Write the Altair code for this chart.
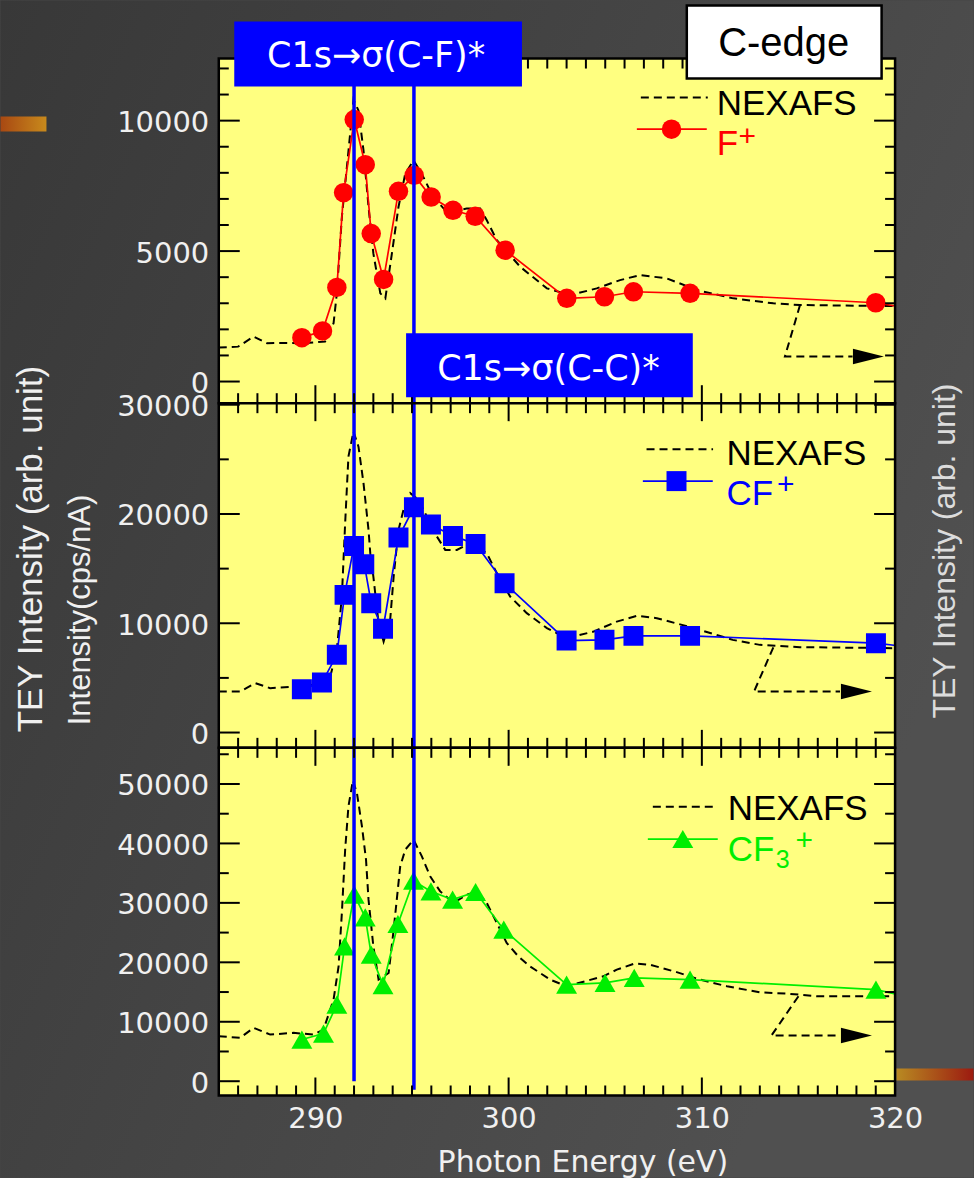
import altair as alt
import pandas as pd

# ---------------- data ----------------
x_domain = [285, 320]
x_major_ticks = [290, 300, 310]
x_minor_ticks = [e for e in range(286, 320) if e % 10 != 0]
x_tick_labels = [290, 300, 310, 320]

resonance_ev = [292.0, 295.1]
resonance_bottom_end = [0, -1450]

# panel 1 : F+
f_domain = [-830, 12380]
f_major = [0, 5000, 10000]
f_minor = [1000, 2000, 3000, 4000, 6000, 7000, 8000, 9000, 11000, 12000]
nex1_ev = [285.0, 286.0, 286.8, 287.5, 288.5, 289.3, 290.5, 290.94, 291.11, 291.37, 291.63, 291.97,
           292.23, 292.49, 292.75, 293.0, 293.36, 293.62, 293.96, 294.3, 294.65, 295.08, 295.5, 296.1,
           296.8, 297.83, 298.53, 298.87, 299.39, 300.6, 301.98, 303.2, 304.56, 305.77, 306.8, 308.19,
           309.74, 311.63, 313.7, 315.08, 320.0]
nex1_val = [1300, 1338, 1720, 1468, 1480, 1468, 1529, 2233, 3380, 6308, 8220, 10800,
            10387, 8858, 6690, 4909, 3380, 3189, 4909, 6690, 7967, 8476, 7967, 7073,
            6500, 6628, 6628, 6181, 5417, 4397, 3571, 3315, 3571, 3888, 4079, 3953,
            3506, 3188, 2997, 2932, 2890]
f_ev = [289.3, 290.37, 291.11, 291.46, 292.01, 292.58, 292.89, 293.53, 294.30, 295.11, 295.99,
        297.12, 298.27, 299.82, 303.01, 304.96, 306.46, 309.39, 319.0, 325.0]
f_val = [1682, 1938, 3609, 7241, 10043, 8311, 5673, 3914, 7290, 7902, 7073,
         6564, 6335, 5035, 3188, 3250, 3441, 3380, 3020, 2260]
arrow1_ev = [315.08, 314.3, 317.8]
arrow1_val = [2932, 963, 963]
head1 = (318.62, 963)

# panel 2 : CF+
cf_domain = [-1400, 30140]
cf_major = [0, 10000, 20000, 30000]
cf_minor = [5000, 15000, 25000]
nex2_ev = [285.0, 286.1, 286.9, 287.66, 288.87, 289.9, 290.77, 291.11, 291.37, 291.54, 291.71, 291.97,
           292.23, 292.49, 292.75, 292.84, 293.0, 293.27, 293.53, 293.87, 294.05, 294.3, 294.56, 294.91,
           295.34, 295.77, 296.29, 296.72, 297.32, 298.0, 298.87, 299.39, 300.08, 300.94, 301.98, 303.0,
           304.4, 305.6, 306.64, 307.67, 308.87, 309.9, 311.6, 313.0, 315.07, 320.0]
nex2_val = [3751, 3751, 4520, 4062, 4208, 4364, 5123, 7566, 12443, 19158, 25252, 27540,
            26166, 22818, 18546, 16413, 14272, 10009, 8325, 10311, 14272, 18546, 20375, 21903,
            21290, 19762, 17932, 16716, 16716, 17328, 16413, 14584, 12443, 10924, 9552, 8637,
            9241, 10155, 10677, 10466, 9900, 9396, 8481, 8024, 7813, 7722]
cf_ev = [289.3, 290.34, 291.11, 291.51, 292.0, 292.53, 292.89, 293.5, 294.3, 295.1, 295.98,
         297.12, 298.29, 299.79, 303.0, 304.96, 306.46, 309.39, 319.01, 325.0]
cf_val = [3970, 4575, 7109, 12598, 17081, 15407, 11839, 9488, 17841, 20621, 19030,
          17996, 17264, 13669, 8418, 8481, 8847, 8847, 8179, 6945]
arrow2_ev = [313.7, 312.7, 317.15]
arrow2_val = [7800, 3751, 3751]
head2 = (318.0, 3751)

# panel 3 : CF3+
cf3_domain = [-2400, 56080]
cf3_major = [0, 10000, 20000, 30000, 40000, 50000]
cf3_minor = [5000, 15000, 25000, 35000, 45000, 55000]
nex3_ev = [285.0, 286.1, 286.8, 287.66, 288.87, 289.9, 290.42, 290.94, 291.2, 291.37, 291.54, 291.71,
           291.94, 292.15, 292.41, 292.62, 292.75, 293.0, 293.27, 293.79, 294.05, 294.39, 294.65, 295.08,
           295.51, 295.94, 296.46, 297.15, 297.84, 298.36, 298.87, 299.39, 299.9, 300.5, 301.1, 302.15,
           303.0, 304.9, 305.6, 306.5, 307.3, 308.7, 309.9, 311.3, 313.0, 314.4, 315.95, 320.0]
nex3_val = [7563, 7294, 8975, 7849, 8134, 7849, 8689, 13731, 19328, 28303, 38943, 46219,
            50600, 48471, 42858, 37261, 30539, 22690, 17093, 18219, 25496, 36135, 38943, 40623,
            37816, 34454, 31933, 29983, 31379, 31933, 29983, 26622, 23261, 21009, 19328, 17093,
            15966, 17647, 18773, 19782, 19614, 18350, 17093, 15966, 14958, 14740, 14286, 14286]
cf3_ev = [289.3, 290.42, 291.11, 291.51, 292.01, 292.58, 292.89, 293.5, 294.27, 295.08, 295.98,
          297.1, 298.29, 299.75, 303.0, 304.99, 306.5, 309.39, 319.01, 325.0]
cf3_val = [7008, 8017, 12891, 22690, 31378, 27564, 21295, 16135, 26454, 33732, 31933,
           30538, 31832, 25496, 16252, 16538, 17378, 17093, 15412, 11074]
arrow3_ev = [315.0, 313.6, 317.15]
arrow3_val = [14300, 7680, 7680]
head3 = (318.0, 7680)

# text
label_cf = "C1s\u2192\u03c3(C-F)*"
label_cc = "C1s\u2192\u03c3(C-C)*"
label_edge = "C-edge"
label_nexafs = "NEXAFS"
title_tey = "TEY Intensity (arb. unit)"
title_ion = "Intensity(cps/nA)"
title_x = "Photon Energy (eV)"

# ---------------- styling ----------------
W = 677
YELLOW = "#FFFF80"
LABEL = "#f0f0f0"
TICKFONT = "DejaVu Sans"
TEXTFONT = "Liberation Sans"
BLUE = "#0000FF"
RED = "#FF0000"
GREEN = "#00EE00"
ARROW = "M-1,-0.5L1,0L-1,0.5Z"

one = pd.DataFrame({"k": [0]})
xs = alt.Scale(domain=x_domain, nice=False, zero=False)


def yaxis(values):
    return alt.Axis(values=values, format="d", ticks=False, tickSize=0, domain=False, grid=False,
                    labelFont=TICKFONT, labelFontSize=29, labelColor=LABEL, labelPadding=10,
                    labelOffset=2, labelOverlap=False, title=None, zindex=2)


x_axis_bottom = alt.Axis(values=x_tick_labels, format="d", ticks=False, tickSize=0, domain=False, grid=False,
                         labelFont=TICKFONT, labelFontSize=29, labelColor=LABEL, labelPadding=9,
                         labelFlush=False, labelOverlap=False, zindex=2,
                         title=title_x, titleFont=TICKFONT, titleFontSize=30, titleFontWeight="normal",
                         titleColor=LABEL, titleX=364, titleY=76, titleBaseline="alphabetic",
                         titleAlign="center")


def vrect(x, x2, y, y2, **kw):
    return alt.Chart(one).mark_rect(**kw).encode(
        x=alt.value(x), x2=alt.value(x2), y=alt.value(y), y2=alt.value(y2))


def vtext(txt, x, y, size, color, font=TEXTFONT, align="left", baseline="alphabetic", angle=0):
    kw = dict(text=txt, font=font, fontSize=size, color=color, align=align, baseline=baseline)
    if angle:
        kw["angle"] = angle
    return alt.Chart(one).mark_text(**kw).encode(x=alt.value(x), y=alt.value(y))


def vrule(x, x2, y, **kw):
    return alt.Chart(one).mark_rule(**kw).encode(x=alt.value(x), x2=alt.value(x2), y=alt.value(y))


def vpoint(x, y, **kw):
    return alt.Chart(one).mark_point(**kw).encode(x=alt.value(x), y=alt.value(y))


def panel(H, y_domain, y_major, y_minor, nex_ev, nex_val, ion_ev, ion_val, color, shape, size,
          arr_ev, arr_val, head, x_axis, res_bottom, before, legend, after):
    ys = alt.Scale(domain=y_domain, nice=False, zero=False)
    ya = yaxis(y_major)

    def X(f):
        return alt.X(f"{f}:Q", scale=xs, axis=x_axis)

    def Y(f):
        return alt.Y(f"{f}:Q", scale=ys, axis=ya)

    nex = pd.DataFrame({"ev": nex_ev, "val": nex_val})
    ion = pd.DataFrame({"ev": ion_ev, "val": ion_val})
    arr = pd.DataFrame({"ev": arr_ev, "val": arr_val, "i": list(range(len(arr_ev)))})
    hd = pd.DataFrame({"ev": [head[0]], "val": [head[1]]})

    layers = list(before)
    layers.append(vrect(0, W, 0, H, fill=YELLOW))
    layers.append(alt.Chart(nex).mark_line(color="black", strokeWidth=2, strokeDash=[8, 5], clip=True)
                  .encode(x=X("ev"), y=Y("val")))
    layers.append(alt.Chart(arr).mark_line(color="black", strokeWidth=2, strokeDash=[8, 5])
                  .encode(x=X("ev"), y=Y("val"), order="i:O"))
    layers.append(alt.Chart(hd).mark_point(shape=ARROW, filled=True, size=960, color="black", opacity=1)
                  .encode(x=X("ev"), y=Y("val")))
    layers.append(alt.Chart(ion).mark_line(color=color, strokeWidth=1.7, clip=True)
                  .encode(x=X("ev"), y=Y("val")))
    layers.append(alt.Chart(ion).mark_point(shape=shape, filled=True, size=size, color=color,
                                            opacity=1, clip=True)
                  .encode(x=X("ev"), y=Y("val")))
    if res_bottom is None:
        res = pd.DataFrame({"ev": resonance_ev})
        layers.append(alt.Chart(res).mark_rule(color=BLUE, strokeWidth=3.5)
                      .encode(x=X("ev"), y=alt.value(0), y2=alt.value(H)))
    else:
        res = pd.DataFrame({"ev": resonance_ev, "end": res_bottom})
        layers.append(alt.Chart(res).mark_rule(color=BLUE, strokeWidth=3.5)
                      .encode(x=X("ev"), y=Y("end"), y2=alt.value(0)))
    # ticks
    ymj = pd.DataFrame({"v": y_major})
    ymn = pd.DataFrame({"v": y_minor})
    xmj = pd.DataFrame({"v": x_major_ticks})
    xmn = pd.DataFrame({"v": x_minor_ticks})
    tk = dict(color="black", strokeWidth=2)
    for df, ln in ((ymj, 21), (ymn, 10)):
        layers.append(alt.Chart(df).mark_rule(**tk).encode(y=Y("v"), x=alt.value(0), x2=alt.value(ln)))
        layers.append(alt.Chart(df).mark_rule(**tk).encode(y=Y("v"), x=alt.value(W - ln), x2=alt.value(W)))
    for df, ln in ((xmj, 18), (xmn, 10)):
        layers.append(alt.Chart(df).mark_rule(**tk).encode(x=X("v"), y=alt.value(0), y2=alt.value(ln)))
        layers.append(alt.Chart(df).mark_rule(**tk).encode(x=X("v"), y=alt.value(H - ln), y2=alt.value(H)))
    layers.append(vrect(0, W, 0, H, fillOpacity=0, stroke="black", strokeWidth=2.5))
    layers += legend
    layers += after
    return alt.layer(*layers).properties(width=W, height=H)


# ---------------- top panel ----------------
bg = alt.Chart(one).mark_rect(
    fill=alt.Gradient(gradient="linear",
                      stops=[alt.GradientStop(offset=0, color="#383838"),
                             alt.GradientStop(offset=1, color="#505050")],
                      x1=0, y1=0, x2=1, y2=0.5)
).encode(x=alt.value(-218.5), x2=alt.value(755.5), y=alt.value(-58), y2=alt.value(1120))

orange_tl = alt.Chart(one).mark_rect(
    fill=alt.Gradient(gradient="linear",
                      stops=[alt.GradientStop(offset=0, color="#a84812"),
                             alt.GradientStop(offset=1, color="#c88a1c")],
                      x1=0, y1=0, x2=1, y2=0)
).encode(x=alt.value(-218.5), x2=alt.value(-172.5), y=alt.value(58), y2=alt.value(73))

legend1 = [
    vrule(422.5, 489.5, 39, color="black", strokeWidth=2, strokeDash=[8, 5]),
    vtext(label_nexafs, 498.5, 57, 35, "black"),
    vrule(418.5, 488.5, 70.7, color=RED, strokeWidth=1.7),
    vpoint(453.2, 70.7, shape="circle", filled=True, size=380, color=RED, opacity=1),
    vtext("F", 498.5, 97, 35, RED),
    vtext("+", 529, 87.5, 30, RED, align="center"),
]
after1 = [
    vrect(15.5, 303.5, -37, 28, fill=BLUE),
    vtext(label_cf, 157.5, 8.7, 35, "white", font="DejaVu Sans", align="center"),
    vrect(187.5, 474.5, 275, 339, fill=BLUE),
    vtext(label_cc, 330, 322, 35, "white", font="DejaVu Sans", align="center"),
    vrect(468.5, 663.5, -53, 20, fill="white", stroke="black", strokeWidth=2.5),
    vtext(label_edge, 565.5, -3, 40, "black", align="center"),
]
top = panel(345, f_domain, f_major, f_minor, nex1_ev, nex1_val, f_ev, f_val, RED, "circle", 380,
            arrow1_ev, arrow1_val, head1, None, None, [bg, orange_tl], legend1, after1)

# ---------------- middle panel ----------------
legend2 = [
    vrule(428.2, 494.8, 46, color="black", strokeWidth=2, strokeDash=[8, 5]),
    vtext(label_nexafs, 508.2, 62, 35, "black"),
    vrule(424.5, 494.5, 78, color=BLUE, strokeWidth=1.7),
    vpoint(458.2, 78, shape="square", filled=True, size=400, color=BLUE, opacity=1),
    vtext("CF", 508.2, 102, 35, BLUE),
    vtext("+", 567.5, 90.5, 30, BLUE, align="center"),
]
after2 = [
    vtext(title_tey, -176.5, 146, 35, LABEL, align="center", angle=270),
    vtext(title_ion, -128.5, 207, 31, LABEL, align="center", angle=270),
    vtext(title_tey, 736.5, 148, 32, "#dcdcdc", align="center", angle=270),
]
mid = panel(345, cf_domain, cf_major, cf_minor, nex2_ev, nex2_val, cf_ev, cf_val, BLUE, "square", 400,
            arrow2_ev, arrow2_val, head2, None, None, [], legend2, after2)

# ---------------- bottom panel ----------------
legend3 = [
    vrule(434.5, 499.5, 59, color="black", strokeWidth=2, strokeDash=[8, 5]),
    vtext(label_nexafs, 509.5, 72, 35, "black"),
    vrule(429.5, 499.5, 91.3, color=GREEN, strokeWidth=1.7),
    vpoint(464.5, 91.3, shape="triangle-up", filled=True, size=440, color=GREEN, opacity=1),
    vtext("CF", 509.5, 113.7, 35, GREEN),
    vtext("3", 557.5, 120, 25, GREEN),
    vtext("+", 586, 102.5, 30, GREEN, align="center"),
]
orange_br = alt.Chart(one).mark_rect(
    fill=alt.Gradient(gradient="linear",
                      stops=[alt.GradientStop(offset=0, color="#b88a22"),
                             alt.GradientStop(offset=1, color="#9c1a10")],
                      x1=0, y1=0, x2=1, y2=0)
).encode(x=alt.value(678.5), x2=alt.value(755.5), y=alt.value(321), y2=alt.value(333))

bot = panel(348, cf3_domain, cf3_major, cf3_minor, nex3_ev, nex3_val, cf3_ev, cf3_val, GREEN,
            "triangle-up", 440, arrow3_ev, arrow3_val, head3, x_axis_bottom, resonance_bottom_end,
            [], legend3, [orange_br])

chart = alt.vconcat(top, mid, bot, spacing=0, bounds="flush").properties(
    padding=0
).configure(background="#454545").configure_view(strokeWidth=0)

chart.save("out.html", embed_options={"renderer": "svg", "actions": False})
